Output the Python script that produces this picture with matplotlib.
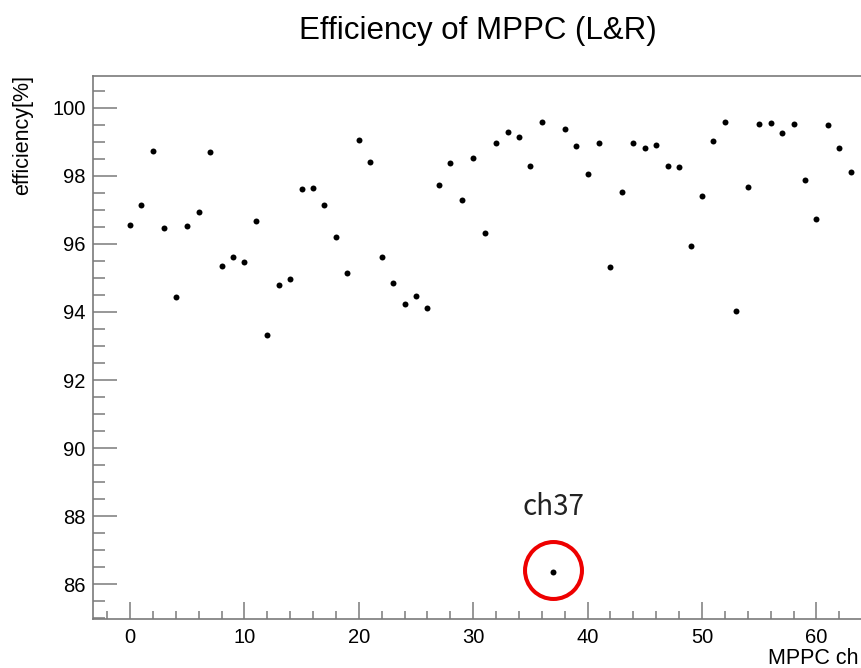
import matplotlib
matplotlib.use("Agg")
import matplotlib.pyplot as plt
from matplotlib.ticker import MultipleLocator

channels = list(range(64))
efficiency = [
    96.55, 97.15, 98.73, 96.46, 94.45, 96.51, 96.94, 98.70, 95.34, 95.61,
    95.46, 96.67, 93.33, 94.79, 94.96, 97.61, 97.63, 97.15, 96.19, 95.14,
    99.04, 98.40, 95.61, 94.84, 94.22, 94.47, 94.13, 97.74, 98.38, 97.28,
    98.52, 96.33, 98.95, 99.29, 99.14, 98.28, 99.59, 86.37, 99.36, 98.88,
    98.06, 98.97, 95.32, 97.51, 98.97, 98.81, 98.90, 98.30, 98.26, 95.94,
    97.42, 99.02, 99.59, 94.02, 97.67, 99.53, 99.55, 99.27, 99.53, 97.87,
    96.74, 99.50, 98.83, 98.11,
]
highlight_ch = 37
title = "Efficiency of MPPC (L&R)"
xlabel = "MPPC ch"
ylabel = "efficiency[%]"

plt.rcParams['font.family'] = ['Liberation Sans', 'DejaVu Sans']

W, H = 861, 668
fig = plt.figure(figsize=(W / 100, H / 100), dpi=100)
left_px, bottom_px, top_px = 92.7, 619.3, 75.7
xmin, xmax = -3.26, 68.26
px_per_unit = 11.44
right_px = left_px + (xmax - xmin) * px_per_unit
ax = fig.add_axes([left_px / W, (H - bottom_px) / H,
                   (right_px - left_px) / W, (bottom_px - top_px) / H])
ax.set_xlim(xmin, xmax)
ax.set_ylim(84.97, 100.94)

ax.plot(channels, efficiency, 'o', color='black', ms=4.3, mew=0)

hx = channels[highlight_ch]
hy = efficiency[highlight_ch]
ax.plot([hx], [hy + 0.05], 'o', ms=41, mfc='none', mec='#ee0000', mew=2.9, clip_on=False)
ax.text(hx, hy + 1.9, f"ch{highlight_ch}", ha='center', va='center', fontsize=20,
        color='#222222', family=['Noto Sans CJK JP', 'DejaVu Sans'])

axis_color = '#7a7a7a'
for s in ax.spines.values():
    s.set_color(axis_color)
    s.set_linewidth(1.2)

ax.xaxis.set_major_locator(MultipleLocator(10))
ax.xaxis.set_minor_locator(MultipleLocator(2))
ax.yaxis.set_major_locator(MultipleLocator(2))
ax.yaxis.set_minor_locator(MultipleLocator(0.5))
ax.tick_params(which='both', direction='in', top=False, right=False, color=axis_color,
               width=1.1, labelsize=14.5, labelcolor='black')
ax.tick_params(axis='x', which='major', length=12, pad=6.5)
ax.tick_params(axis='x', which='minor', length=6)
ax.tick_params(axis='y', which='major', length=17, pad=5)
ax.tick_params(axis='y', which='minor', length=8.5)

fig.text(478 / W, 1 - 39.5 / H, title, ha='center', va='baseline', fontsize=22.5)
fig.text(23 / W, 1 - 75 / H, ylabel, ha='center', va='top', rotation=90, fontsize=15.5)
fig.text(768 / W, 1 - 664 / H, xlabel, ha='left', va='baseline', fontsize=15.5)

fig.savefig("out.png", dpi=100)
